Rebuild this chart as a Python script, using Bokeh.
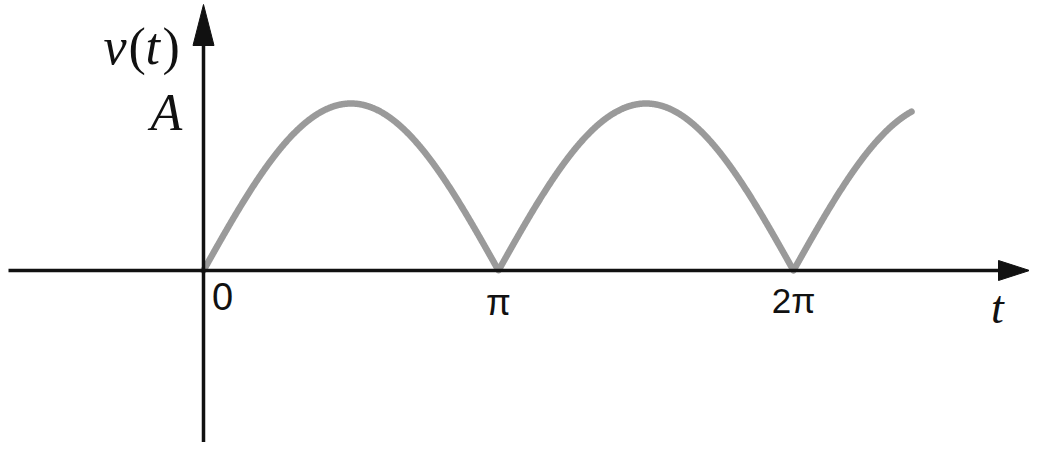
import numpy as np
from bokeh.plotting import figure
from bokeh.models import Range1d
from bokeh.embed import file_html
from bokeh.resources import INLINE
from bokeh.core.properties import value

# ---- data ----
amplitude = 1.0                 # A
t_end = 2.4 * np.pi             # curve drawn up to about 2.4*pi
tick_values = [0.0, np.pi, 2 * np.pi]
tick_labels = ["0", "π", "2π"]
y_label_value = amplitude
y_label_text = "A"

# ---- layout constants (canvas pixels) ----
W, H = 1029, 442
ORX, ORY = 203, 270            # origin position on canvas
KX = 295 / np.pi               # px per radian
KY = 167                       # px per unit of A


def dx(px):
    return (px - ORX) / KX


def dy(py):
    return (ORY - py) / KY


p = figure(width=W, height=H, output_backend="svg", toolbar_location=None,
           x_range=Range1d(dx(0), dx(W)), y_range=Range1d(dy(H), dy(0)),
           min_border=0)
p.axis.visible = False
p.grid.visible = False
p.outline_line_color = None
p.background_fill_color = "white"
p.border_fill_color = "white"

# curve |sin t|
t = np.linspace(0, t_end, 1500)
v = amplitude * np.abs(np.sin(t))
p.line(t, v, line_color="#9a9a9a", line_width=6.5, line_cap="round", line_join="round")

AX = "#111111"
# horizontal axis
p.segment(x0=[dx(8)], y0=[0], x1=[dx(1002)], y1=[0], line_color=AX, line_width=3.5)
p.patch([dx(998), dx(1029), dx(998)], [dy(ORY - 10), 0, dy(ORY + 10)],
        fill_color=AX, line_color=AX, line_width=1)
# vertical axis
p.segment(x0=[0], y0=[dy(H)], x1=[0], y1=[dy(42)], line_color=AX, line_width=3.5)
p.patch([dx(ORX - 10.5), 0, dx(ORX + 10.5)], [dy(45), dy(4), dy(45)],
        fill_color=AX, line_color=AX, line_width=1)

# tick labels
p.text(x=[dx(222)], y=[dy(296)], text=[tick_labels[0]], text_font=value("Liberation Sans"),
       text_font_size="38px", text_align="center", text_baseline="middle", text_color="#111111")
p.text(x=[tick_values[1]], y=[dy(302)], text=[tick_labels[1]],
       text_font=value("Liberation Sans"), text_font_size="36px",
       text_align="center", text_baseline="middle", text_color="#111111")
p.text(x=[tick_values[2]], y=[dy(300)], text=[tick_labels[2]],
       text_font=value("Liberation Sans"), text_font_size="35px",
       text_align="center", text_baseline="middle", text_color="#111111")

# t label
p.text(x=[dx(997)], y=[dy(307)], text=["t"], text_font=value("Liberation Serif"),
       text_font_style="italic", text_font_size="46px", text_align="center",
       text_baseline="middle", text_color="#111111")

# A label
p.text(x=[dx(150)], y=[dy(112)], text=[y_label_text], text_font=value("Liberation Serif"),
       text_font_style="italic", text_font_size="52px", text_align="left",
       text_baseline="alphabetic", text_color="#111111")

# v(t) label
parts = [("v", 103, "italic"), ("(", 128, "normal"), ("t", 145, "italic"), (")", 162, "normal")]
for txt, px, style in parts:
    p.text(x=[dx(px)], y=[dy(46)], text=[txt], text_font=value("Liberation Serif"),
           text_font_style=style, text_font_size="52px", text_align="left",
           text_baseline="alphabetic", text_color="#111111")

open("out.html", "w").write(file_html(p, INLINE))
